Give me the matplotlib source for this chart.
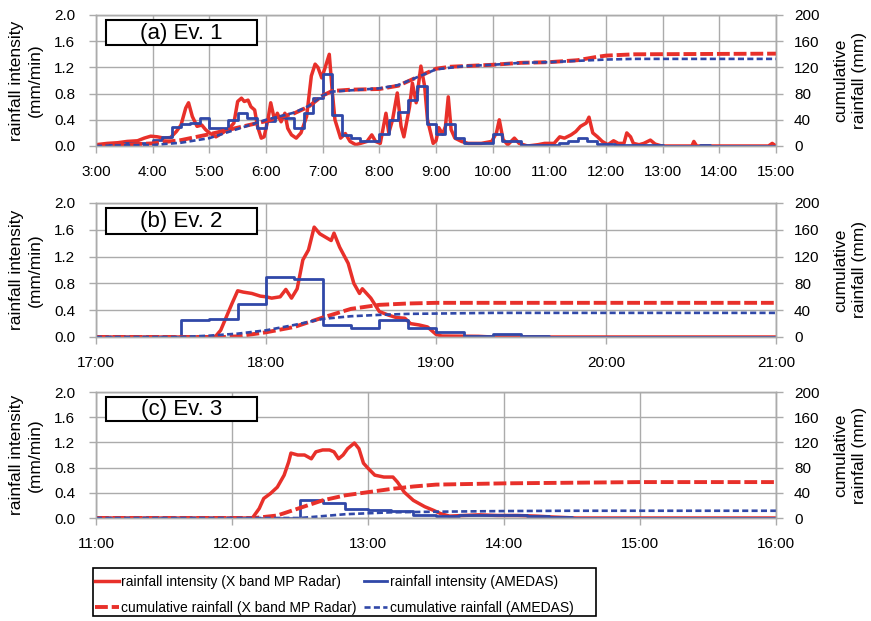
import matplotlib.pyplot as plt
from matplotlib.patches import Rectangle
from matplotlib.lines import Line2D
import numpy as np

plt.rcParams['font.family'] = ['Liberation Sans', 'DejaVu Sans']

RED = '#e8302a'
BLUE = '#3048a8'
GRID = '#ababab'


def hrs(times):
    # "H:MM" -> decimal hours
    out = []
    for s in times:
        h, m = s.split(':')
        out.append(int(h) + int(m) / 60)
    return out


# ---------------- (a) Ev. 1 ----------------
radar_a_t = ["3:00", "3:12", "3:23", "3:33", "3:44", "3:51", "3:58", "4:05", "4:12", "4:19",
             "4:25", "4:30", "4:35", "4:38", "4:42", "4:47", "4:52", "4:56", "5:00", "5:07",
             "5:14", "5:21", "5:26", "5:30", "5:34", "5:37", "5:41", "5:44", "5:48", "5:51",
             "5:55", "5:58", "6:02", "6:05", "6:09", "6:12", "6:16", "6:20", "6:23", "6:27",
             "6:32", "6:37", "6:43", "6:48", "6:52", "6:55", "6:59", "7:02", "7:07", "7:10",
             "7:13", "7:19", "7:24", "7:29", "7:35", "7:40", "7:47", "7:52", "7:56", "8:01",
             "8:07", "8:10", "8:14", "8:19", "8:23", "8:26", "8:32", "8:35", "8:39", "8:44",
             "8:48", "8:51", "8:57", "9:00", "9:03", "9:07", "9:10", "9:13", "9:16", "9:20",
             "9:27", "9:34", "9:48", "9:59", "10:04", "10:07", "10:11", "10:16", "10:23", "10:28",
             "10:37", "10:48", "10:55", "11:05", "11:11", "11:16", "11:23", "11:28", "11:33", "11:39",
             "11:42", "11:46", "11:51", "11:56", "12:02", "12:08", "12:13", "12:19", "12:22", "12:26",
             "12:29", "12:35", "12:40", "12:47", "12:52", "12:59", "13:31", "13:33", "13:36", "14:52",
             "14:56", "15:00"]
radar_a_v = [0.02, 0.04, 0.05, 0.07, 0.08, 0.12, 0.15, 0.14, 0.12, 0.13,
             0.22, 0.32, 0.58, 0.66, 0.45, 0.30, 0.32, 0.25, 0.20, 0.14,
             0.20, 0.27, 0.35, 0.68, 0.73, 0.68, 0.70, 0.60, 0.55, 0.30,
             0.12, 0.14, 0.40, 0.66, 0.40, 0.50, 0.37, 0.50, 0.27, 0.17,
             0.12, 0.20, 0.45, 1.07, 1.25, 1.20, 1.04, 1.17, 1.40, 0.86,
             0.40, 0.12, 0.19, 0.07, 0.02, 0.04, 0.07, 0.17, 0.07, 0.04,
             0.50, 0.20, 0.40, 0.81, 0.30, 0.14, 0.60, 0.96, 0.66, 1.22,
             0.91, 0.40, 0.04, 0.08, 0.28, 0.18, 0.30, 0.75, 0.25, 0.12,
             0.07, 0.04, 0.04, 0.07, 0.20, 0.40, 0.10, 0.02, 0.12, 0.04,
             0.00, 0.02, 0.04, 0.04, 0.14, 0.12, 0.17, 0.22, 0.30, 0.35,
             0.44, 0.20, 0.14, 0.07, 0.02, 0.08, 0.04, 0.04, 0.20, 0.14,
             0.04, 0.02, 0.04, 0.09, 0.03, 0.00, 0.00, 0.07, 0.00, 0.00,
             0.04, 0.00]
# AMEDAS 10-min values from 3:00
amedas_a_start = "3:00"
amedas_a_v = [0.00, 0.02, 0.03, 0.05, 0.05, 0.05,
              0.09, 0.14, 0.29, 0.33, 0.35, 0.42,
              0.27, 0.27, 0.40, 0.50, 0.42, 0.27,
              0.38, 0.45, 0.42, 0.27, 0.50, 0.73,
              1.10, 0.47, 0.17, 0.12, 0.07, 0.07,
              0.19, 0.40, 0.52, 0.70, 0.92, 0.33,
              0.18, 0.34, 0.12, 0.04, 0.04, 0.04,
              0.18, 0.08, 0.08, 0.02, 0.01, 0.01,
              0.02, 0.04, 0.08, 0.12, 0.08, 0.03,
              0.03, 0.02, 0.02, 0.02, 0.02, 0.01,
              0.00, 0.00, 0.00, 0.00, 0.01, 0.00,
              0.00, 0.00, 0.00, 0.00, 0.00, 0.00]
cum_radar_a_t = ["3:00", "3:30", "4:00", "4:30", "5:00", "5:30", "6:00", "6:30", "6:45", "7:00",
                 "7:10", "7:30", "8:00", "8:20", "8:40", "9:00", "9:15", "9:30", "10:00", "10:30",
                 "11:00", "11:30", "11:50", "12:00", "12:30", "15:00"]
cum_radar_a_v = [0, 2, 4, 9, 18, 28, 38, 50, 60, 77,
                 84, 86, 87, 92, 105, 118, 121, 122, 124, 127,
                 128, 131, 136, 138, 140, 141]
cum_amedas_a_t = ["3:00", "3:30", "4:00", "4:30", "5:00", "5:30", "6:00", "6:30", "6:45", "7:00",
                  "7:10", "7:30", "8:00", "8:20", "8:40", "9:00", "9:30", "10:00", "10:30", "11:00",
                  "11:30", "12:00", "12:30", "15:00"]
cum_amedas_a_v = [0, 1, 1.5, 5, 12, 26, 40, 51, 61, 77,
                  83, 85, 88, 93, 105, 117, 122, 124, 127, 128,
                  130, 132, 133, 133]

# ---------------- (b) Ev. 2 ----------------
radar_b_t = ["17:00", "17:42", "17:44", "17:46", "17:48", "17:50", "17:52", "17:55", "17:58", "18:00",
             "18:02", "18:05", "18:07", "18:09", "18:11", "18:13", "18:15", "18:17", "18:19", "18:21",
             "18:23", "18:24", "18:26", "18:29", "18:31", "18:33", "18:34", "18:37", "18:40", "18:43",
             "18:46", "18:49", "18:51", "18:54", "18:57", "19:00", "19:02", "19:15", "19:20", "21:00"]
radar_b_v = [0.0, 0.0, 0.10, 0.30, 0.50, 0.69, 0.67, 0.65, 0.61, 0.60,
             0.58, 0.60, 0.71, 0.58, 0.72, 1.15, 1.30, 1.64, 1.54, 1.49,
             1.44, 1.55, 1.34, 1.10, 0.80, 0.65, 0.72, 0.58, 0.38, 0.33,
             0.29, 0.28, 0.20, 0.18, 0.15, 0.04, 0.015, 0.01, 0.0, 0.0]
amedas_b_start = "17:00"
amedas_b_v = [0.00, 0.00, 0.00, 0.25, 0.27, 0.49,
              0.89, 0.87, 0.18, 0.13, 0.25, 0.13,
              0.08, 0.02, 0.045, 0.02, 0.00, 0.00,
              0.00, 0.00, 0.00, 0.00, 0.00, 0.00]
cum_radar_b_t = ["17:00", "17:45", "17:50", "18:00", "18:10", "18:20", "18:30", "18:40", "18:50", "19:00", "21:00"]
cum_radar_b_v = [0, 0, 1, 7, 15, 29, 42, 48, 50, 51, 51]
cum_amedas_b_t = ["17:00", "17:30", "17:40", "17:50", "18:00", "18:10", "18:20", "18:30", "18:40", "18:50",
                  "19:00", "19:20", "21:00"]
cum_amedas_b_v = [0, 0, 2, 5, 10, 18, 27, 31, 33, 34.5, 35, 36, 36]

# ---------------- (c) Ev. 3 ----------------
radar_c_t = ["11:00", "12:09", "12:12", "12:14", "12:17", "12:20", "12:23", "12:25", "12:26", "12:29",
             "12:32", "12:35", "12:37", "12:40", "12:43", "12:45", "12:47", "12:49", "12:51", "12:54",
             "12:56", "12:58", "13:00", "13:03", "13:07", "13:11", "13:13", "13:16", "13:20", "13:25",
             "13:29", "13:32", "13:36", "13:42", "13:49", "13:57", "14:06", "14:14", "14:22", "14:32",
             "16:00"]
radar_c_v = [0.0, 0.0, 0.15, 0.31, 0.39, 0.49, 0.68, 0.89, 1.03, 1.00,
             1.00, 0.94, 1.05, 1.08, 1.08, 1.05, 0.94, 1.00, 1.10, 1.19,
             1.10, 0.87, 0.79, 0.68, 0.65, 0.65, 0.57, 0.41, 0.28, 0.18,
             0.12, 0.07, 0.03, 0.04, 0.05, 0.04, 0.04, 0.03, 0.015, 0.0,
             0.0]
amedas_c_start = "11:00"
amedas_c_v = [0.00, 0.00, 0.00, 0.00, 0.00, 0.00,
              0.00, 0.00, 0.00, 0.29, 0.24, 0.15,
              0.13, 0.11, 0.05, 0.03, 0.04, 0.05,
              0.05, 0.03, 0.015, 0.00, 0.00, 0.00,
              0.00, 0.00, 0.00, 0.00, 0.00, 0.00]
cum_radar_c_t = ["11:00", "12:10", "12:20", "12:30", "12:40", "12:50", "13:00", "13:10", "13:20", "13:30",
                 "14:00", "15:00", "16:00"]
cum_radar_c_v = [0, 0, 4, 16, 28, 36, 41, 46, 50, 53, 55, 57, 57]
cum_amedas_c_t = ["11:00", "12:30", "12:40", "12:50", "13:00", "13:10", "13:20", "13:30", "14:00", "14:30", "16:00"]
cum_amedas_c_v = [0, 0, 3, 6, 7.5, 9, 9.5, 10, 11, 11.5, 11.5]

fig = plt.figure(figsize=(8.71, 6.21), dpi=100)


def panel(rect, title, h0, h1, rt, rv, a0, av, crt, crv, cat, cav):
    ax = fig.add_axes(rect)
    ax.set_xlim(h0, h1)
    ax.set_ylim(0, 2.0)
    ax.set_xticks(range(h0, h1 + 1))
    ax.set_xticklabels(["%d:00" % h for h in range(h0, h1 + 1)], fontsize=11)
    ax.set_yticks(np.arange(0, 2.01, 0.4))
    ax.set_yticklabels(["%.1f" % v for v in np.arange(0, 2.01, 0.4)], fontsize=11)
    ax.grid(True, color=GRID, lw=1.0)
    ax.set_axisbelow(True)
    ax.tick_params(axis='both', direction='out', length=5, color=GRID, width=1)
    ax.tick_params(axis='y', pad=10)
    ax.tick_params(axis='x', pad=9)

    ax.plot(hrs(rt), rv, color=RED, lw=2.5)
    t0 = hrs([a0])[0]
    ts = t0 + np.arange(len(av) + 1) / 6
    ax.step(ts, list(av) + [av[-1]], where='post', color=BLUE, lw=2.0)

    ax2 = ax.twinx()
    ax2.set_ylim(0, 200)
    ax2.set_yticks(range(0, 201, 40))
    ax2.tick_params(axis='y', direction='out', length=5, color=GRID, width=1, labelsize=11, pad=8)
    ax2.plot(hrs(crt), crv, color=RED, lw=2.8, dashes=(3.3, 1.0))
    ax2.plot(hrs(cat), cav, color=BLUE, lw=1.9, dashes=(2.3, 1.25))

    for a in (ax, ax2):
        for sp in a.spines.values():
            sp.set_color(GRID)
            sp.set_linewidth(1.0)

    ax2.add_patch(Rectangle((0.015, 0.77), 0.222, 0.192, transform=ax2.transAxes,
                            facecolor='white', edgecolor='black', lw=1.5, zorder=5))
    ax2.text(0.126, 0.862, title, transform=ax2.transAxes, ha='center', va='center',
             fontsize=16, zorder=6)

    yc = rect[1] + rect[3] / 2
    fig.text(26 / 871, yc, 'rainfall intensity\n(mm/min)', rotation=90,
             ha='center', va='center', fontsize=12.5, linespacing=1.25)
    fig.text(850 / 871, yc, 'cumulative\nrainfall (mm)', rotation=90,
             ha='center', va='center', fontsize=12.5, linespacing=1.25)
    return ax


L = 96 / 871
W = 680 / 871
panel([L, 1 - 146 / 621, W, 131 / 621], '(a) Ev. 1', 3, 15,
      radar_a_t, radar_a_v, amedas_a_start, amedas_a_v,
      cum_radar_a_t, cum_radar_a_v, cum_amedas_a_t, cum_amedas_a_v)
panel([L, 1 - 337 / 621, W, 134 / 621], '(b) Ev. 2', 17, 21,
      radar_b_t, radar_b_v, amedas_b_start, amedas_b_v,
      cum_radar_b_t, cum_radar_b_v, cum_amedas_b_t, cum_amedas_b_v)
panel([L, 1 - 518 / 621, W, 126 / 621], '(c) Ev. 3', 11, 16,
      radar_c_t, radar_c_v, amedas_c_start, amedas_c_v,
      cum_radar_c_t, cum_radar_c_v, cum_amedas_c_t, cum_amedas_c_v)

# legend
fig.patches.append(Rectangle((93 / 871, 5 / 621), 503 / 871, 48 / 621, transform=fig.transFigure,
                             facecolor='white', edgecolor='black', lw=1.2))
handles = [Line2D([], [], color=RED, lw=2.5),
           Line2D([], [], color=RED, lw=2.8, dashes=(3.3, 1.0)),
           Line2D([], [], color=BLUE, lw=2.0),
           Line2D([], [], color=BLUE, lw=1.9, dashes=(2.3, 1.25))]
labels = ['rainfall intensity (X band MP Radar)',
          'cumulative rainfall (X band MP Radar)',
          'rainfall intensity (AMEDAS)',
          'cumulative rainfall (AMEDAS)']
fig.legend(handles, labels, ncol=2, loc='upper left', bbox_to_anchor=(95 / 871, 1 - 575 / 621),
           frameon=False, fontsize=10, handlelength=1.7, handletextpad=0.2,
           columnspacing=0.5, labelspacing=0.85, borderpad=0.0, borderaxespad=0)

fig.savefig('out.png', dpi=100)
